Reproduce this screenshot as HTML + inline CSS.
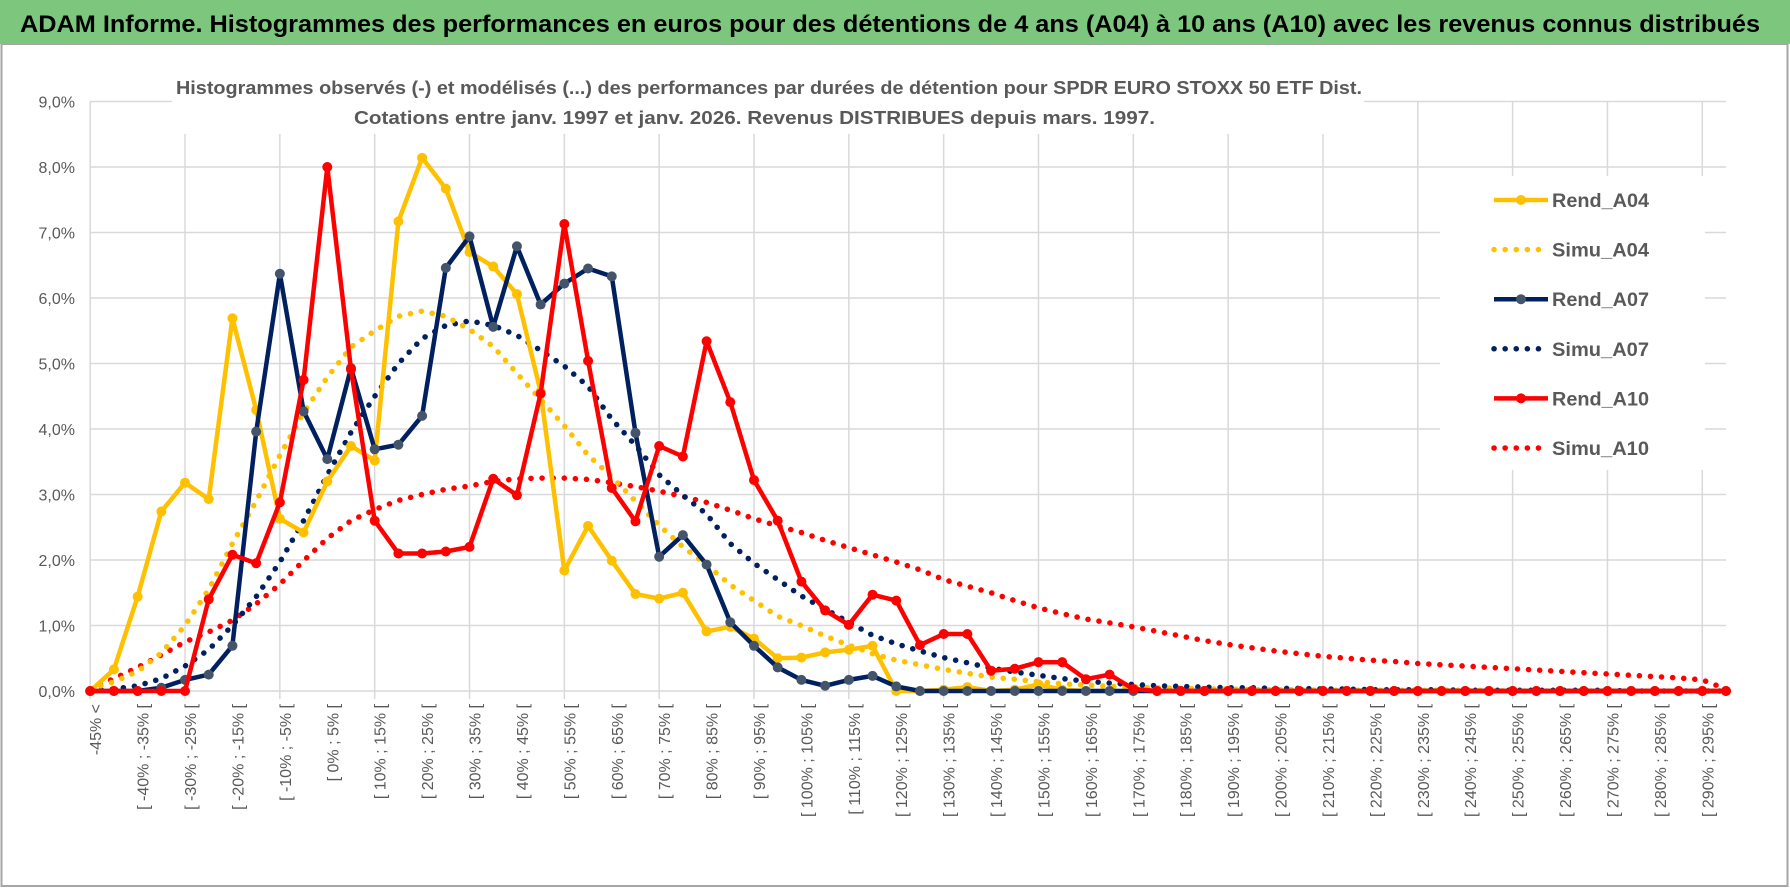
<!DOCTYPE html>
<html><head><meta charset="utf-8"><style>
html,body{margin:0;padding:0;background:#fff;}
svg{display:block;font-family:"Liberation Sans",sans-serif;}
</style></head><body>
<svg id="chart" width="1790" height="888" viewBox="0 0 1790 888">
<rect x="0" y="0" width="1790" height="888" fill="#fff"/>
<rect x="1.5" y="44" width="1786" height="842" fill="none" stroke="#a6a6a6" stroke-width="2"/>
<rect x="0" y="0" width="1790" height="44" fill="#7dc67e"/>
<text x="20" y="32" font-size="24" font-weight="bold" fill="#000" textLength="1740" lengthAdjust="spacingAndGlyphs">ADAM Informe. Histogrammes des performances en euros pour des détentions de 4 ans (A04) à 10 ans (A10) avec les revenus connus distribués</text>
<g id="grid"></g>
<rect x="172" y="68" width="1192" height="66" fill="#fff"/>
<text x="176" y="94" font-size="18" font-weight="bold" fill="#595959" textLength="1186" lengthAdjust="spacingAndGlyphs">Histogrammes observés (-) et modélisés (...) des performances par durées de détention pour SPDR EURO STOXX 50 ETF Dist.</text>
<text x="354" y="124" font-size="18" font-weight="bold" fill="#595959" textLength="801" lengthAdjust="spacingAndGlyphs">Cotations entre janv. 1997 et janv. 2026. Revenus DISTRIBUES depuis mars. 1997.</text>
<g id="series"></g>
<g id="legend"></g>
</svg>
<script>
const categories = ["-45% <"];
for (let i = 1; i < 70; i++) { const a = -50 + 5 * i; categories.push("[ " + a + "% ; " + (a + 5) + "% ["); }
const yTicks = [0,1,2,3,4,5,6,7,8,9];
const yTickLabels = ["0,0%","1,0%","2,0%","3,0%","4,0%","5,0%","6,0%","7,0%","8,0%","9,0%"];
const rendA04 = [0,0.33,1.44,2.74,3.18,2.93,5.69,4.29,2.63,2.42,3.2,3.74,3.52,7.17,8.14,7.67,6.7,6.48,6.06,4.57,1.84,2.52,1.99,1.48,1.41,1.5,0.91,0.98,0.8,0.5,0.51,0.59,0.63,0.69,0,0,0.02,0.06,0,0.02,0.1,0.02,0,0,0,0,0,0,0,0,0,0,0,0,0,0,0,0,0,0,0,0,0,0,0,0,0,0,0,0];
const simuA04 = [0.03,0.14,0.3,0.58,1.0,1.55,2.25,2.9,3.6,4.25,4.79,5.25,5.5,5.72,5.8,5.72,5.52,5.26,4.85,4.45,4.05,3.6,3.27,2.9,2.53,2.2,1.93,1.62,1.38,1.14,1.0,0.84,0.7,0.57,0.47,0.4,0.33,0.27,0.21,0.18,0.14,0.11,0.09,0.07,0.06,0.05,0.04,0.03,0.03,0.02,0.02,0.02,0.01,0.01,0.01,0.01,0.01,0.01,0.01,0.01,0,0,0,0,0,0,0,0,0,0];
const rendA07 = [0,0,0,0.05,0.17,0.25,0.69,3.96,6.37,4.27,3.54,4.93,3.69,3.76,4.2,6.46,6.94,5.56,6.79,5.9,6.22,6.45,6.33,3.94,2.05,2.38,1.93,1.05,0.69,0.36,0.17,0.08,0.17,0.23,0.07,0,0,0,0,0,0,0,0,0,0,0,0,0,0,0,0,0,0,0,0,0,0,0,0,0,0,0,0,0,0,0,0,0,0,0];
const simuA07 = [0,0.03,0.08,0.19,0.38,0.63,1.0,1.44,1.97,2.6,3.3,3.95,4.5,5.0,5.38,5.58,5.65,5.58,5.43,5.2,4.96,4.65,4.15,3.75,3.3,2.99,2.7,2.25,1.95,1.7,1.45,1.25,1.05,0.85,0.72,0.61,0.51,0.43,0.35,0.29,0.24,0.19,0.15,0.12,0.1,0.08,0.07,0.06,0.05,0.05,0.04,0.04,0.03,0.03,0.02,0.02,0.02,0.02,0.01,0.01,0.01,0.01,0.01,0.01,0.01,0,0,0,0,0];
const rendA10 = [0,0,0,0,0,1.4,2.08,1.95,2.88,4.75,8.0,4.91,2.6,2.1,2.1,2.13,2.2,3.24,2.99,4.54,7.13,5.04,3.1,2.59,3.74,3.58,5.34,4.41,3.22,2.6,1.67,1.23,1.01,1.47,1.38,0.7,0.87,0.87,0.31,0.34,0.44,0.44,0.18,0.25,0.03,0,0,0,0,0,0,0,0,0,0,0,0,0,0,0,0,0,0,0,0,0,0,0,0,0];
const simuA10 = [0.03,0.19,0.36,0.55,0.75,0.9,1.08,1.33,1.63,1.99,2.33,2.6,2.77,2.91,3.0,3.08,3.13,3.2,3.24,3.25,3.25,3.23,3.18,3.12,3.05,2.97,2.88,2.76,2.63,2.52,2.42,2.3,2.19,2.08,1.97,1.85,1.7,1.6,1.5,1.38,1.27,1.18,1.1,1.04,0.98,0.91,0.84,0.77,0.71,0.66,0.61,0.57,0.53,0.5,0.47,0.45,0.42,0.4,0.38,0.36,0.34,0.32,0.3,0.28,0.26,0.24,0.22,0.2,0.17,0.03];
const seriesNames = ["Rend_A04","Simu_A04","Rend_A07","Simu_A07","Rend_A10","Simu_A10"];

const NS = "http://www.w3.org/2000/svg";
const X0 = 90.2, X1 = 1726, Y0 = 691, Y9 = 101.5;
function xScale(i){ return X0 + i * (X1 - X0) / (categories.length - 1); }
function yScale(v){ return Y0 - v * (Y0 - Y9) / 9; }
function mk(tag, attrs, parent){ const e = document.createElementNS(NS, tag); for (const k in attrs) e.setAttribute(k, attrs[k]); parent.appendChild(e); return e; }

const grid = document.getElementById('grid');
yTicks.forEach((t, k) => {
  const ln = mk('line', {x1: X0, x2: X1, y1: yScale(t), y2: yScale(t), stroke: '#d9d9d9', 'stroke-width': 1.5}, grid);
  
  
  const tx = mk('text', {x: 75, y: yScale(t) + 6, 'text-anchor': 'end', 'font-size': 16, fill: '#595959'}, grid);
  tx.textContent = yTickLabels[k];
  
  
});
categories.forEach((c, i) => {
  if (i % 4 === 0) {
    const ln = mk('line', {x1: xScale(i), x2: xScale(i), y1: Y9, y2: Y0 + 8, stroke: '#d9d9d9', 'stroke-width': 1.5}, grid);
    
    
  }
  if (i % 2 === 0) {
    const x = xScale(i) + 11, y = 704;
    const tx = mk('text', {x: x, y: y, 'text-anchor': 'end', 'font-size': 16, fill: '#595959', transform: 'rotate(-90 ' + x + ' ' + y + ')'}, grid);
    tx.textContent = c;
    
    
  }
});

const series = document.getElementById('series');
function pts(arr){ return arr.map((v, i) => xScale(i).toFixed(1) + ',' + yScale(v).toFixed(1)).join(' '); }
function dotted(arr, color, name){
  const p = mk('polyline', {points: pts(arr), fill: 'none', stroke: color, 'stroke-width': 5.5, 'stroke-linecap': 'round', 'stroke-linejoin': 'round', 'stroke-dasharray': '0.1 11'}, series);
  
  
}
function solid(arr, color, mcolor, name){
  const p = mk('polyline', {points: pts(arr), fill: 'none', stroke: color, 'stroke-width': 4.5, 'stroke-linejoin': 'round'}, series);
  
  
  arr.forEach((v, i) => {
    const m = mk('circle', {cx: xScale(i), cy: yScale(v), r: 5, fill: mcolor}, series);
    
    
  });
}
dotted(simuA10, '#ff0000', 'simu-a10-line');
dotted(simuA07, '#002060', 'simu-a07-line');
dotted(simuA04, '#ffc000', 'simu-a04-line');
solid(rendA04, '#ffc000', '#ffc000', 'rend-a04-line');
solid(rendA07, '#002060', '#44546a', 'rend-a07-line');
solid(rendA10, '#ff0000', '#ff0000', 'rend-a10-line');

const legend = document.getElementById('legend');
const lbg = mk('rect', {x: 1440, y: 176, width: 265, height: 294, fill: '#fff'}, legend);


const legColors = ['#ffc000','#ffc000','#002060','#002060','#ff0000','#ff0000'];
const legMarkers = ['#ffc000',null,'#44546a',null,'#ff0000',null];
seriesNames.forEach((n, k) => {
  const y = 200 + k * 49.6;
  const g = mk('g', {}, legend);
  
  
  if (k % 2 === 0) {
    mk('line', {x1: 1494, x2: 1548, y1: y, y2: y, stroke: legColors[k], 'stroke-width': 4.5}, g);
    mk('circle', {cx: 1521, cy: y, r: 5, fill: legMarkers[k]}, g);
  } else {
    mk('line', {x1: 1494, x2: 1548, y1: y, y2: y, stroke: legColors[k], 'stroke-width': 5.5, 'stroke-linecap': 'round', 'stroke-dasharray': '0.1 11'}, g);
  }
  const t = mk('text', {x: 1552, y: y + 7, 'font-size': 19, 'font-weight': 'bold', fill: '#595959', textLength: 97, lengthAdjust: 'spacingAndGlyphs'}, g);
  t.textContent = n;
});
</script>
</body></html>
